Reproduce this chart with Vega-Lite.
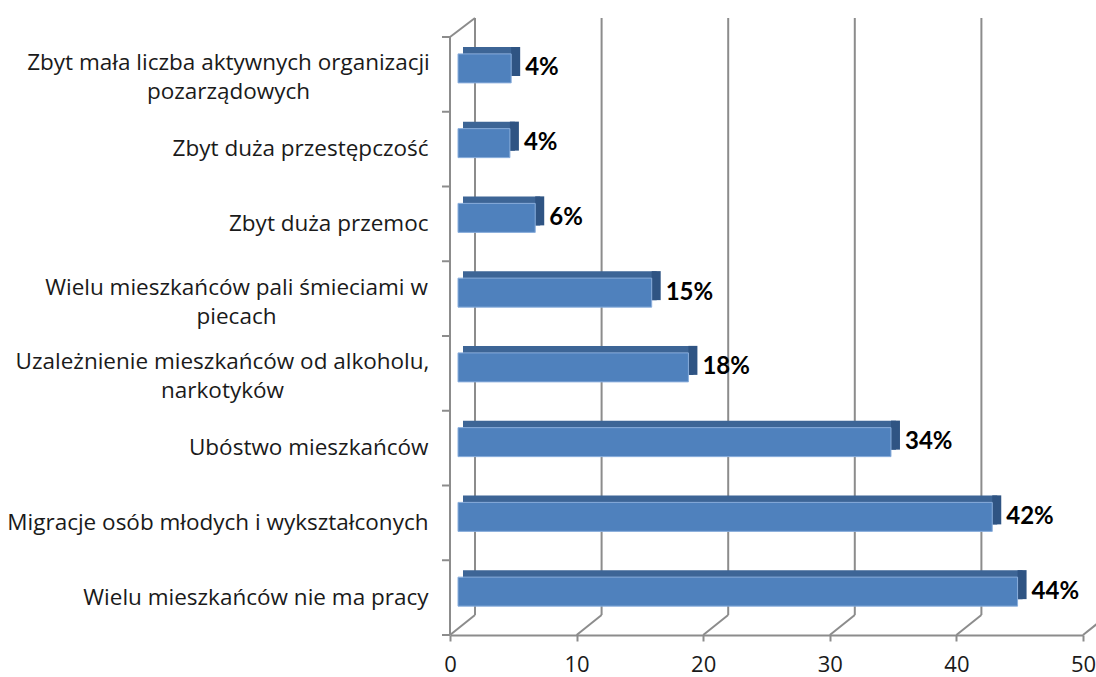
{
  "$schema": "https://vega.github.io/schema/vega-lite/v6.json",
  "width": 633,
  "height": 617,
  "autosize": {"type": "none"},
  "padding": {"left": 450, "top": 18, "right": 13, "bottom": 42},
  "background": "white",
  "config": {
    "view": {"stroke": null},
    "axis": {"grid": false},
    "axisX": {
      "domainColor": "#8c8c8c", "domainWidth": 2, "tickColor": "#8c8c8c", "tickWidth": 2, "tickSize": 6,
      "labelFont": "Open Sans", "labelFontSize": 22, "labelColor": "#1a1a1a", "labelPadding": 13, "labelFlush": false
    }
  },
  "datasets": {
    "bars": [
      {"cat": "Zbyt mała liczba aktywnych organizacji|pozarządowych", "value": 4.2, "lab": "4%"},
      {"cat": "Zbyt duża przestępczość", "value": 4.1, "lab": "4%"},
      {"cat": "Zbyt duża przemoc", "value": 6.1, "lab": "6%"},
      {"cat": "Wielu mieszkańców pali śmieciami w|piecach", "value": 15.3, "lab": "15%"},
      {"cat": "Uzależnienie mieszkańców od alkoholu,|narkotyków", "value": 18.2, "lab": "18%"},
      {"cat": "Ubóstwo mieszkańców", "value": 34.2, "lab": "34%"},
      {"cat": "Migracje osób młodych i wykształconych", "value": 42.2, "lab": "42%"},
      {"cat": "Wielu mieszkańców nie ma pracy", "value": 44.2, "lab": "44%"}
    ],
    "grid": [{"v": 0}, {"v": 10}, {"v": 20}, {"v": 30}, {"v": 40}, {"v": 50}]
  },
  "layer": [
    {
      "layer": [
        {
          "data": {"name": "grid"},
          "mark": {"type": "rule", "color": "#8c8c8c", "strokeWidth": 2, "xOffset": 25},
          "encoding": {
            "x": {"field": "v", "type": "quantitative", "scale": {"domain": [0, 50], "nice": false}, "title": null,
                  "axis": {"values": [0, 10, 20, 30, 40, 50], "title": null}},
            "y": {"datum": 20, "type": "quantitative", "scale": {"domain": [0, 617], "nice": false, "zero": false}, "axis": null},
            "y2": {"datum": 617}
          }
        },
        {
          "data": {"name": "grid"},
          "mark": {"type": "rule", "color": "#8c8c8c", "strokeWidth": 2, "x2Offset": 25},
          "encoding": {
            "x": {"field": "v", "type": "quantitative", "title": null},
            "x2": {"field": "v"},
            "y": {"datum": 0, "type": "quantitative"},
            "y2": {"datum": 20}
          }
        },
        {
          "data": {"values": [{}]},
          "mark": {"type": "rule", "color": "#8c8c8c", "strokeWidth": 2},
          "encoding": {
            "x": {"datum": 0, "type": "quantitative", "title": null},
            "y": {"datum": 0, "type": "quantitative"},
            "y2": {"datum": 598}
          }
        },
        {
          "data": {"values": [{}]},
          "mark": {"type": "rule", "color": "#8c8c8c", "strokeWidth": 2, "x2Offset": 25},
          "encoding": {
            "x": {"datum": 0, "type": "quantitative", "title": null},
            "x2": {"datum": 0},
            "y": {"datum": 598, "type": "quantitative"},
            "y2": {"datum": 617}
          }
        },
        {
          "data": {"values": [{}]},
          "mark": {"type": "rule", "color": "#8c8c8c", "strokeWidth": 2, "xOffset": -8},
          "encoding": {
            "x": {"datum": 0, "type": "quantitative", "title": null},
            "x2": {"datum": 0},
            "y": {"datum": 0, "type": "quantitative"}
          }
        }
      ]
    },
    {
      "data": {"name": "bars"},
      "encoding": {
        "y": {"field": "cat", "type": "nominal", "sort": null, "title": null,
              "scale": {"range": [19, 617], "paddingInner": 0, "paddingOuter": 0},
              "axis": {"orient": "left", "domain": false, "ticks": false, "labelExpr": "split(datum.label, '|')",
                       "labelFont": "Open Sans", "labelFontSize": 22.5, "labelColor": "#1a1a1a", "labelLineHeight": 29,
                       "labelLimit": 500,
                       "labelAlign": {"condition": {"test": "indexof(datum.label, '|') >= 0", "value": "center"}, "value": "right"},
                       "labelOffset": {"condition": {"test": "indexof(datum.label, '|') >= 0", "value": -11}, "value": 0},
                       "labelPadding": {"condition": [
                          {"test": "indexof(datum.label, 'organizacji') >= 0", "value": 222},
                          {"test": "indexof(datum.label, 'piecach') >= 0", "value": 214},
                          {"test": "indexof(datum.label, 'alkoholu') >= 0", "value": 228}
                       ], "value": 22}}}
      },
      "layer": [
        {
          "mark": {"type": "rule", "color": "#8c8c8c", "strokeWidth": 2, "xOffset": -8},
          "encoding": {
            "y": {"field": "cat", "type": "nominal", "sort": null, "bandPosition": 0},
            "x": {"datum": 0, "type": "quantitative", "title": null},
            "x2": {"datum": 0}
          }
        },
        {
          "mark": {"type": "bar", "size": 29, "yOffset": -13, "xOffset": 13, "x2Offset": 13, "color": "#3d6596"},
          "encoding": {"x": {"field": "value", "type": "quantitative", "title": null}}
        },
        {
          "mark": {"type": "bar", "size": 29, "yOffset": -13, "xOffset": 8, "x2Offset": 17, "color": "#2f5483"},
          "encoding": {"x": {"field": "value", "type": "quantitative", "title": null}, "x2": {"field": "value"}}
        },
        {
          "mark": {"type": "bar", "size": 29, "yOffset": -6, "xOffset": 8, "x2Offset": 8, "color": "#4f81bd", "stroke": "#8aaedc", "strokeWidth": 1},
          "encoding": {"x": {"field": "value", "type": "quantitative", "title": null}}
        },
        {
          "mark": {"type": "text", "align": "left", "baseline": "middle", "dx": 22, "yOffset": -6,
                   "font": "Lato", "fontSize": 24, "fontWeight": "bold", "color": "#000000"},
          "encoding": {"x": {"field": "value", "type": "quantitative", "title": null}, "text": {"field": "lab"}}
        }
      ]
    }
  ],
  "resolve": {"scale": {"y": "independent"}, "axis": {"y": "independent"}}
}
